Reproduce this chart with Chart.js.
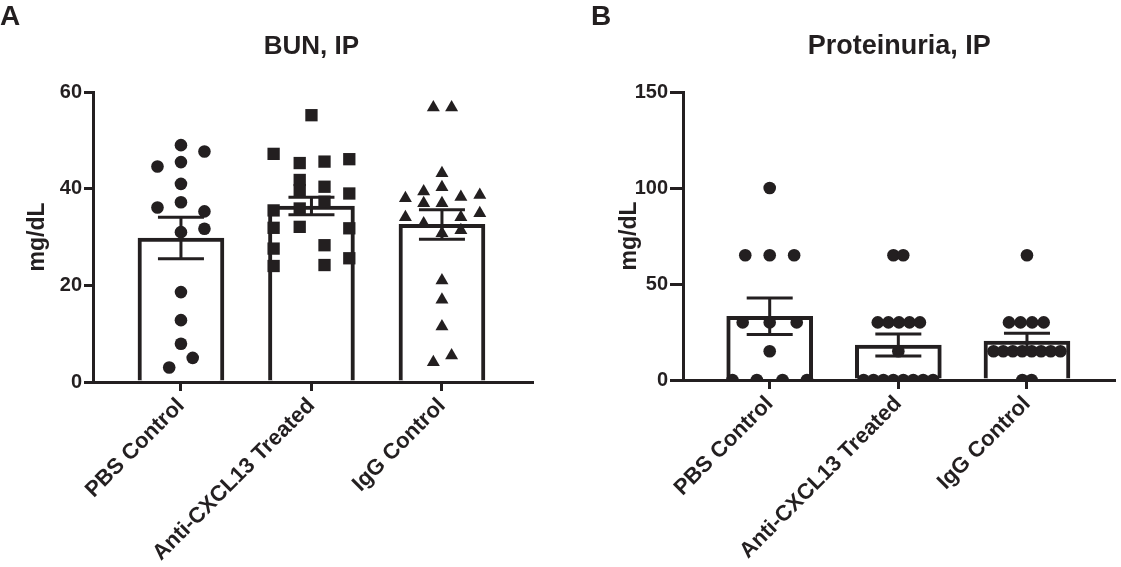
<!DOCTYPE html>
<html><head><meta charset="utf-8">
<script src="https://cdn.jsdelivr.net/npm/chart.js@4.4.1/dist/chart.umd.min.js"></script>
<style>
html,body{margin:0;padding:0;background:#fff;}
#wrap{position:relative;width:1121px;height:567px;overflow:hidden;background:#fff;}
canvas{position:absolute;top:0;}
</style></head><body>
<div id="wrap"><canvas id="cA" width="560" height="567" style="left:0"></canvas><canvas id="cB" width="561" height="567" style="left:560px"></canvas></div>
<script>
// ---- shared ----
const categories = ['PBS Control', 'Anti-CXCL13 Treated', 'IgG Control'];

// ---- Panel A: BUN, IP (mg/dL) ----
const bunTicks = [0, 20, 40, 60];
const bunMeans = [29.8, 36.4, 32.6];
const bunSem = [4.3, 1.8, 3.05];
const bunPbs = [49.0, 47.7, 44.6, 45.5, 41.0, 37.2, 36.1, 35.3, 31.0, 31.7, 18.6, 12.8, 7.9, 5.0, 3.0];
const bunPbsJitter = [0, 0.18, -0.18, 0, 0, 0, -0.18, 0.18, 0, 0.18, 0, 0, 0, 0.09, -0.09];
const bunAnti = [55.2, 47.2, 45.3, 45.6, 46.1, 41.8, 39.7, 40.4, 39.0, 35.9, 37.3, 35.5, 31.9, 27.6, 24.0, 32.1, 31.8, 28.3, 25.6, 24.2];
const bunAntiJitter = [0, -0.29, -0.09, 0.10, 0.29, -0.09, -0.09, 0.10, 0.29, -0.09, 0.10, -0.29, -0.29, -0.29, -0.29, -0.09, 0.29, 0.10, 0.29, 0.10];
const bunIgg = [56.8, 56.8, 43.2, 40.3, 39.4, 38.0, 38.3, 38.7, 37.0, 37.0, 34.1, 34.1, 34.9, 32.8, 31.4, 30.8, 21.0, 17.0, 11.5, 4.1, 5.5];
const bunIggJitter = [-0.066, 0.074, 0, 0, -0.14, -0.28, 0.145, 0.29, -0.14, 0, -0.28, 0.145, 0.29, -0.14, 0.145, 0, 0, 0, 0, -0.066, 0.074];

// ---- Panel B: Proteinuria, IP (mg/dL) ----
const protTicks = [0, 50, 100, 150];
const protMeans = [33.2, 18.2, 20.3];
const protSem = [9.5, 5.7, 4.0];
const protPbs = [100, 65, 65, 65, 30, 30, 30, 15, 0, 0, 0, 0];
const protPbsJitter = [0, -0.19, 0, 0.19, -0.21, 0, 0.21, 0, -0.29, -0.10, 0.10, 0.29];
const protAnti = [65, 65, 30, 30, 30, 30, 30, 15, 0, 0, 0, 0, 0, 0, 0, 0];
const protAntiJitter = [-0.038, 0.038, -0.16, -0.077, 0.005, 0.087, 0.168, 0, -0.27, -0.193, -0.116, -0.039, 0.039, 0.116, 0.193, 0.27];
const protIgg = [65, 30, 30, 30, 30, 15, 15, 15, 15, 15, 15, 15, 15, 0, 0];
const protIggJitter = [0, -0.14, -0.05, 0.04, 0.13, -0.26, -0.185, -0.11, -0.037, 0.037, 0.11, 0.185, 0.26, -0.036, 0.036];

const INK = '#231f20';
const FONT = "'Liberation Sans', Arial, Helvetica, sans-serif";

const errorBars = {
  id: 'errorBars',
  afterDatasetsDraw(chart, args, opts) {
    const {ctx} = chart; const x = chart.scales.x, y = chart.scales.y;
    ctx.save(); ctx.strokeStyle = INK; ctx.lineWidth = 3; ctx.lineCap = 'butt';
    opts.means.forEach((m, i) => {
      const cx = x.getPixelForValue(i);
      const t = y.getPixelForValue(m + opts.sem[i]);
      const b = y.getPixelForValue(Math.max(0, m - opts.sem[i]));
      ctx.beginPath();
      ctx.moveTo(cx, t); ctx.lineTo(cx, b);
      ctx.moveTo(cx - 23, t); ctx.lineTo(cx + 23, t);
      ctx.moveTo(cx - 23, b); ctx.lineTo(cx + 23, b);
      ctx.stroke();
    });
    ctx.restore();
  }
};

const decor = {
  id: 'decor',
  afterDraw(chart, args, o) {
    const {ctx} = chart; const x = chart.scales.x, y = chart.scales.y;
    ctx.save(); ctx.fillStyle = INK;
    ctx.font = 'bold 28px ' + FONT; ctx.textAlign = 'left'; ctx.textBaseline = 'alphabetic';
    ctx.fillText(o.letter, o.letterX, 25);
    ctx.font = 'bold ' + o.titleSize + 'px ' + FONT; ctx.textAlign = 'center';
    ctx.fillText(o.title, x.getPixelForValue(1) + o.titleShift, 54);
    ctx.translate(o.yLabelX, (y.top + y.bottom) / 2); ctx.rotate(-Math.PI / 2);
    ctx.font = 'bold 23px ' + FONT; ctx.textBaseline = 'middle';
    ctx.fillText(o.yLabel, 0, 0);
    ctx.restore();
  }
};

function makeChart(id, p) {
  const ds = [{
    type: 'bar', data: p.means.map((m, i) => ({x: i, y: m})),
    backgroundColor: '#fff', borderColor: INK, borderWidth: 4, borderSkipped: 'start',
    barThickness: 86, order: 3
  }];
  p.groups.forEach((g, gi) => ds.push({
    type: 'scatter', data: g.values.map((v, k) => ({x: gi + g.jitter[k], y: v})),
    pointStyle: g.style, pointRadius: g.radius, pointHoverRadius: g.radius,
    pointBackgroundColor: INK, pointBorderWidth: 0, pointBorderColor: INK,
    clip: {left: 30, top: 30, right: 30, bottom: 0}, order: 1
  }));
  const tickFont = {family: FONT, size: 20, weight: 'bold'};
  return new Chart(document.getElementById(id), {
    type: 'scatter',
    data: {datasets: ds},
    options: {
      responsive: false, animation: false, events: [],
      layout: {padding: {top: 92, right: p.padRight, left: 0, bottom: 0}},
      plugins: {
        legend: {display: false}, tooltip: {enabled: false},
        errorBars: {means: p.means, sem: p.sem},
        decor: p.decor
      },
      scales: {
        x: {
          type: 'linear', min: p.xMin, max: p.xMax, offset: false,
          afterFit: s => { s.height = p.xHeight; },
          afterBuildTicks: s => { s.ticks = categories.map((c, i) => ({value: i})); },
          grid: {display: true, drawOnChartArea: false, drawTicks: true, tickLength: 9, lineWidth: 3, color: INK, offset: false},
          border: {display: true, color: INK, width: 3},
          ticks: {autoSkip: false, minRotation: 45, maxRotation: 45, padding: 2, color: INK,
                  font: {family: FONT, size: 22, weight: 'bold'},
                  callback: v => categories[v] !== undefined ? categories[v] : ''}
        },
        y: {
          type: 'linear', min: 0, max: p.yMax,
          afterFit: s => { s.width = p.yWidth; },
          afterBuildTicks: s => { s.ticks = p.ticks.map(v => ({value: v})); },
          grid: {display: true, drawOnChartArea: false, drawTicks: true, tickLength: p.yTickLen, lineWidth: 3, color: INK},
          border: {display: true, color: INK, width: 3},
          ticks: {padding: 2, color: INK, font: tickFont}
        }
      }
    },
    plugins: [errorBars, decor]
  });
}

makeChart('cA', {
  means: bunMeans, sem: bunSem, ticks: bunTicks, yMax: 60, yTickLen: 9,
  xMin: -0.674, xMax: 2.69, xHeight: 185, yWidth: 93, padRight: 28,
  groups: [
    {values: bunPbs, jitter: bunPbsJitter, style: 'circle', radius: 6.3},
    {values: bunAnti, jitter: bunAntiJitter, style: 'rect', radius: 8.7},
    {values: bunIgg, jitter: bunIggJitter, style: 'triangle', radius: 7.5}
  ],
  decor: {letter: 'A', letterX: 0, title: 'BUN, IP', titleSize: 26, titleShift: 0, yLabel: 'mg/dL', yLabelX: 38}
});

makeChart('cB', {
  means: protMeans, sem: protSem, ticks: protTicks, yMax: 150, yTickLen: 13,
  xMin: -0.674, xMax: 2.682, xHeight: 187, yWidth: 123, padRight: 0,
  groups: [
    {values: protPbs, jitter: protPbsJitter, style: 'circle', radius: 6.3},
    {values: protAnti, jitter: protAntiJitter, style: 'circle', radius: 6.3},
    {values: protIgg, jitter: protIggJitter, style: 'circle', radius: 6.3}
  ],
  decor: {letter: 'B', letterX: 31, title: 'Proteinuria, IP', titleSize: 27, titleShift: 1, yLabel: 'mg/dL', yLabelX: 70}
});
</script>
</body></html>
